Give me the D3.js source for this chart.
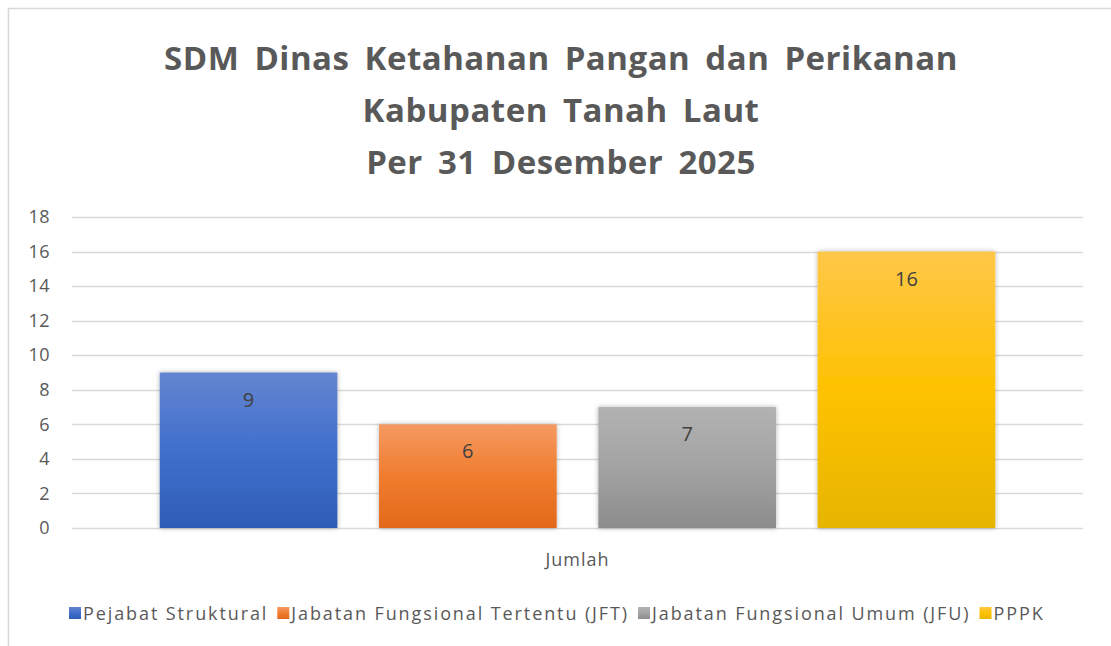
<!doctype html>
<html>
<head>
  <meta charset="utf-8">
  <title>SDM Dinas Ketahanan Pangan dan Perikanan</title>
  <style>
    html, body { margin: 0; padding: 0; background: #fff; }
    #chart { width: 1111px; height: 646px; }
    text { font-family: "Open Sans", "Noto Sans", sans-serif; }
  </style>
</head>
<body>
  <div id="chart"></div>
  <script src="https://d3js.org/d3.v7.min.js"></script>
  <script>
    const titleLines = ['SDM Dinas Ketahanan Pangan dan Perikanan', 'Kabupaten Tanah Laut', 'Per 31 Desember 2025'];
    const categories = ['Jumlah'];
    const seriesNames = ['Pejabat Struktural', 'Jabatan Fungsional Tertentu (JFT)', 'Jabatan Fungsional Umum (JFU)', 'PPPK'];
    const seriesValues = [9, 6, 7, 16];
    const yTicks = [0, 2, 4, 6, 8, 10, 12, 14, 16, 18];

    // gradient stops per series (top, middle, bottom)
    const seriesColors = [
      ['#6585d0', '#3f6fcc', '#2e5db5'],
      ['#f59a62', '#f07c2e', '#e2691a'],
      ['#b2b2b2', '#a3a3a3', '#8c8c8c'],
      ['#ffc748', '#fec200', '#e6b500']
    ];

    const width = 1111, height = 646;
    const svg = d3.select('#chart').append('svg')
      .attr('width', width)
      .attr('height', height);

    const defs = svg.append('defs');
    seriesColors.forEach((c, i) => {
      const g = defs.append('linearGradient')
        .attr('id', 'grad' + i)
        .attr('x1', 0).attr('y1', 0).attr('x2', 0).attr('y2', 1);
      g.append('stop').attr('offset', '0%').attr('stop-color', c[0]);
      g.append('stop').attr('offset', '50%').attr('stop-color', c[1]);
      g.append('stop').attr('offset', '100%').attr('stop-color', c[2]);
    });
    const shadow = defs.append('filter').attr('id', 'shadow')
      .attr('x', '-10%').attr('y', '-10%').attr('width', '120%').attr('height', '120%');
    shadow.append('feDropShadow')
      .attr('dx', 0).attr('dy', 0).attr('stdDeviation', 2.5)
      .attr('flood-color', '#000').attr('flood-opacity', 0.3);

    // outer frame (only top/left edges visible)
    svg.append('path')
      .attr('d', `M8.5,${height} V8.5 H${width}`)
      .attr('fill', 'none')
      .attr('stroke', '#d9d9d9')
      .attr('stroke-width', 1.5);

    // title
    svg.append('g').selectAll('text')
      .data(titleLines)
      .join('text')
      .attr('x', 561)
      .attr('y', (d, i) => 70 + i * 52)
      .attr('text-anchor', 'middle')
      .attr('font-size', 33)
      .attr('font-weight', 700)
      .attr('fill', '#595959')
      .attr('letter-spacing', 0.5)
      .attr('word-spacing', 6)
      .text(d => d);

    const plot = { left: 72, right: 1083, top: 217, bottom: 528 };

    const y = d3.scaleLinear()
      .domain([0, 18])
      .range([plot.bottom, plot.top]);

    const x0 = d3.scaleBand()
      .domain(categories)
      .range([plot.left, plot.right])
      .paddingInner(0)
      .paddingOuter(0.105);

    const x1 = d3.scaleBand()
      .domain(seriesNames)
      .range([0, x0.bandwidth()])
      .paddingInner(0.19)
      .paddingOuter(0);

    // gridlines
    svg.append('g')
      .selectAll('line')
      .data(yTicks)
      .join('line')
      .attr('x1', plot.left)
      .attr('x2', plot.right)
      .attr('y1', d => Math.round(y(d)) + 0.5)
      .attr('y2', d => Math.round(y(d)) + 0.5)
      .attr('stroke', '#d9d9d9')
      .attr('stroke-width', 1.5);

    // y axis labels
    const yAxis = d3.axisLeft(y).tickValues(yTicks).tickSize(0).tickPadding(0);
    svg.append('g')
      .attr('transform', `translate(50,0)`)
      .call(yAxis)
      .call(g => g.select('.domain').remove())
      .call(g => g.selectAll('text')
        .attr('font-size', 18)
        .attr('fill', '#595959')
        .attr('letter-spacing', 0.5)
        .attr('font-family', '"Open Sans", "Noto Sans", sans-serif'));

    // bars
    const barGroup = svg.append('g')
      .selectAll('g')
      .data(categories)
      .join('g')
      .attr('transform', d => `translate(${x0(d)},0)`);

    const bars = seriesNames.map((name, i) => ({ name, value: seriesValues[i], idx: i }));

    barGroup.selectAll('rect')
      .data(bars)
      .join('rect')
      .attr('x', d => x1(d.name))
      .attr('y', d => y(d.value))
      .attr('width', x1.bandwidth())
      .attr('height', d => y(0) - y(d.value))
      .attr('fill', d => `url(#grad${d.idx})`)
      .attr('filter', 'url(#shadow)');

    barGroup.selectAll('text')
      .data(bars)
      .join('text')
      .attr('x', d => x1(d.name) + x1.bandwidth() / 2)
      .attr('y', d => y(d.value) + 34)
      .attr('text-anchor', 'middle')
      .attr('font-size', 20)
      .attr('fill', '#404040')
      .text(d => d.value);

    // category label
    svg.append('g').selectAll('text')
      .data(categories)
      .join('text')
      .attr('x', d => x0(d) + x0.bandwidth() / 2)
      .attr('y', 566)
      .attr('text-anchor', 'middle')
      .attr('font-size', 18)
      .attr('fill', '#595959')
      .attr('letter-spacing', 1)
      .text(d => d);

    // legend
    const legend = svg.append('g').attr('transform', 'translate(0,613)');
    let lx = 69;
    seriesNames.forEach((name, i) => {
      const item = legend.append('g').attr('transform', `translate(${lx},0)`);
      item.append('rect')
        .attr('x', 0).attr('y', -6)
        .attr('width', 12).attr('height', 12)
        .attr('fill', `url(#grad${i})`);
      const t = item.append('text')
        .attr('x', 14)
        .attr('y', 7)
        .attr('font-size', 18)
        .attr('fill', '#595959')
        .attr('letter-spacing', 1.9)
        .text(name);
      lx += 14 + t.node().getComputedTextLength() + 9;
    });
  </script>
</body>
</html>
